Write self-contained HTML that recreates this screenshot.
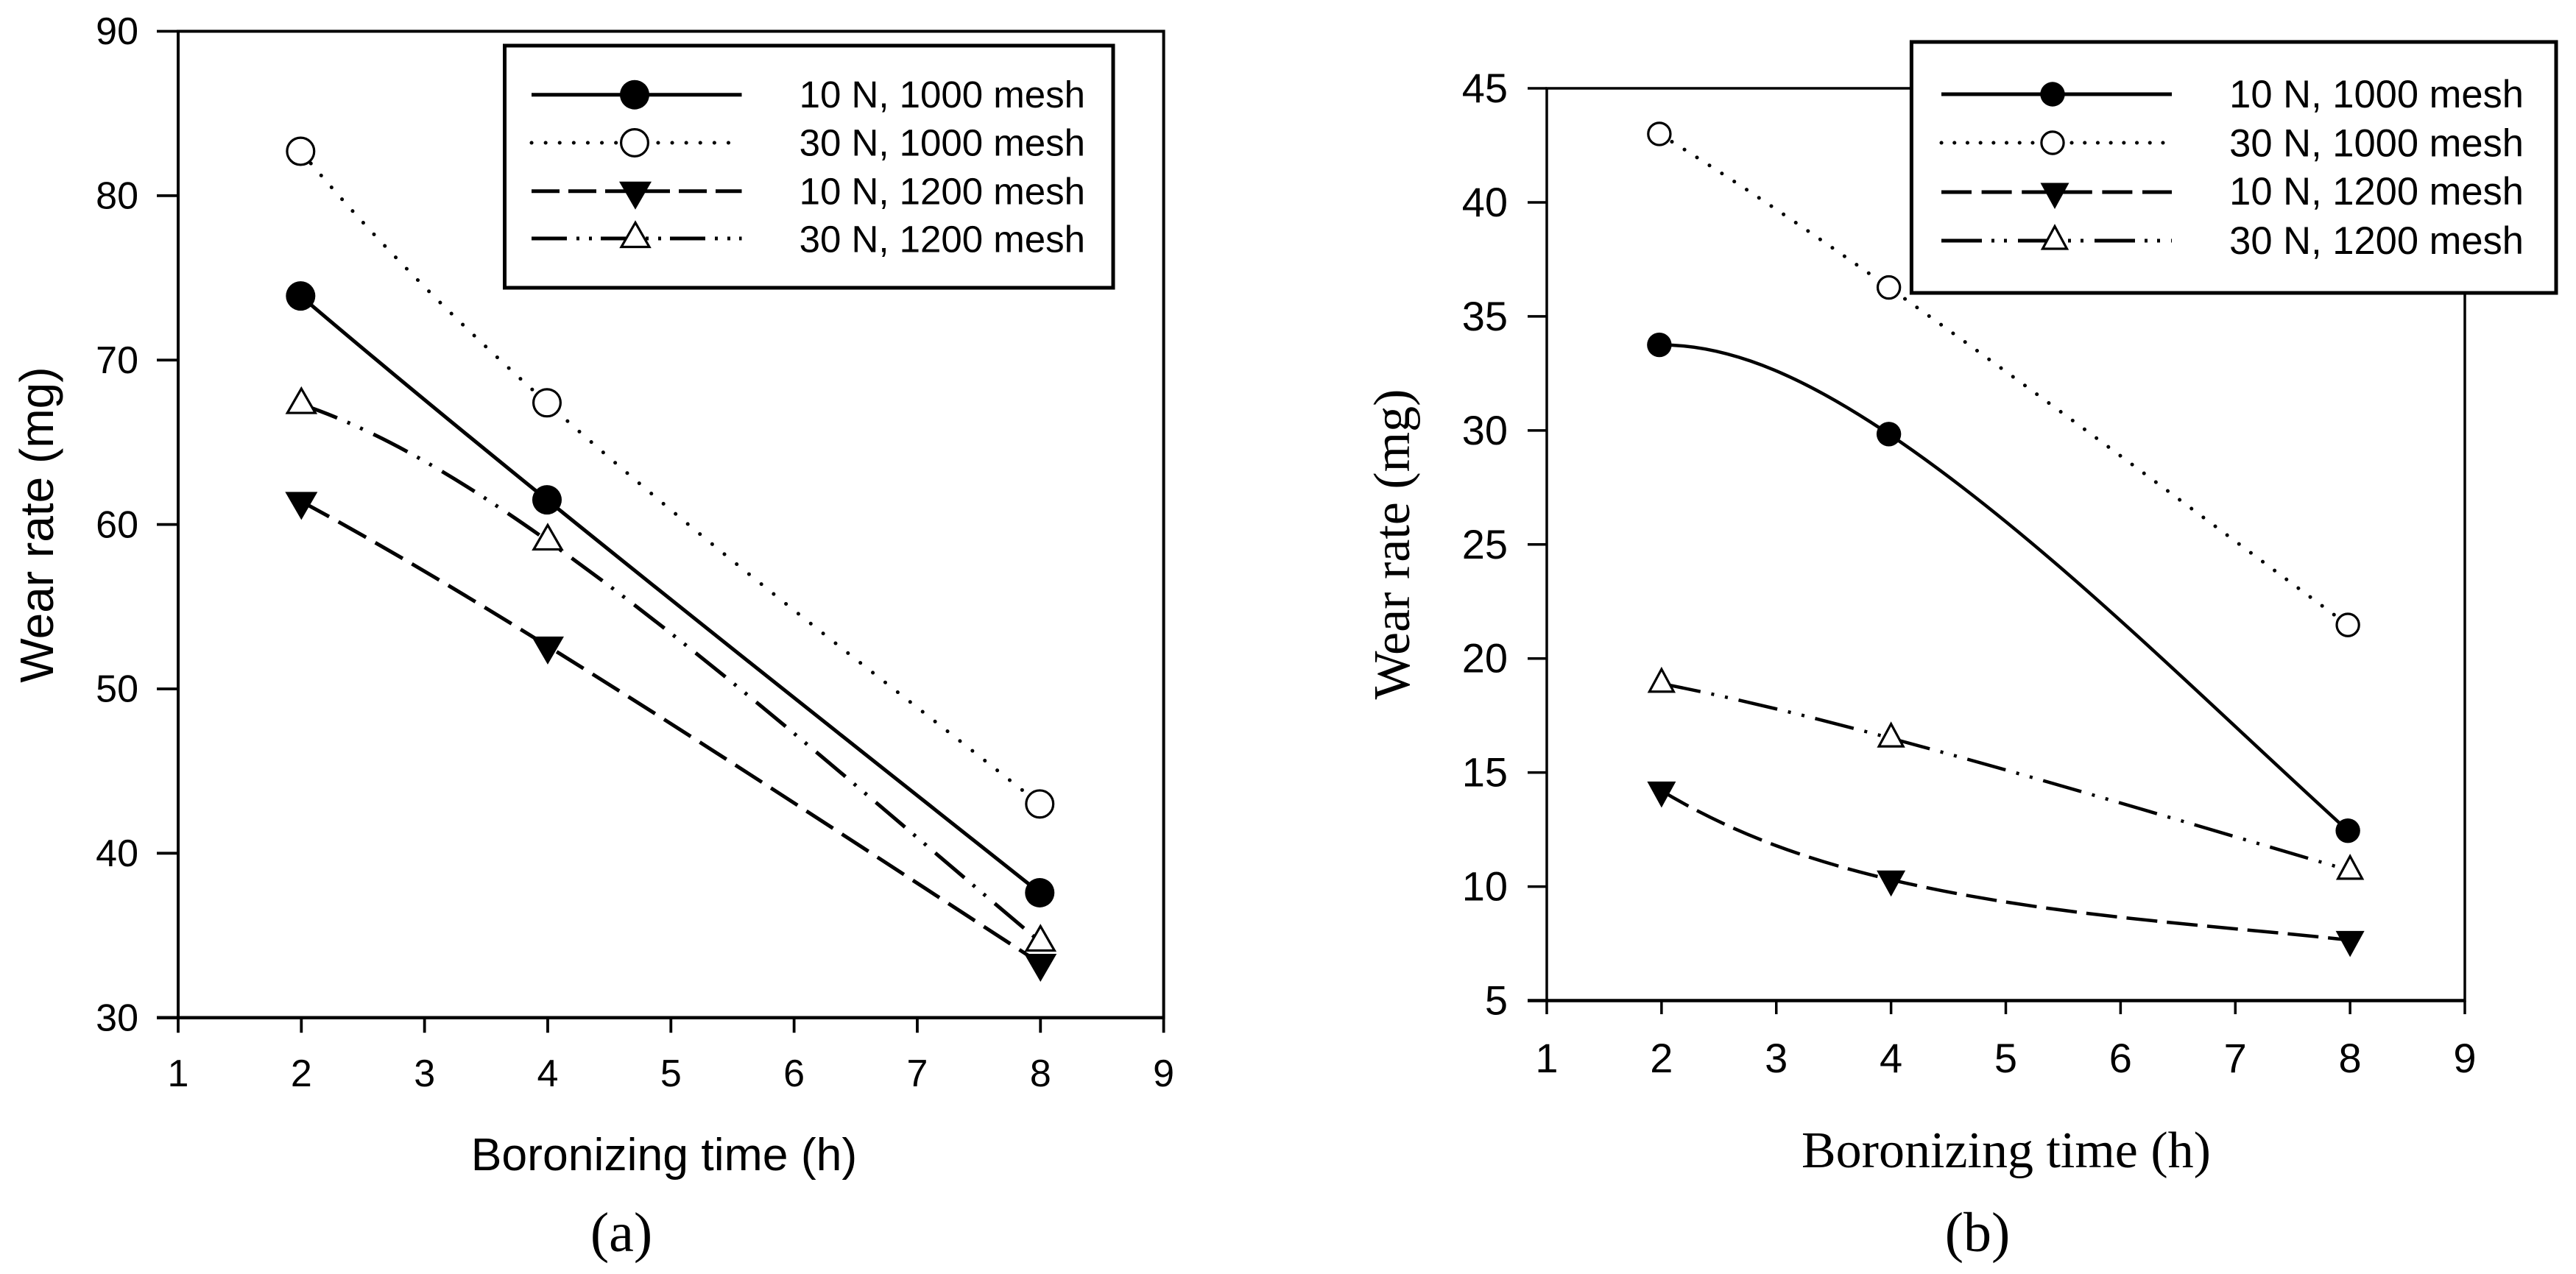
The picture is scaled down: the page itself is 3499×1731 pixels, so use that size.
<!DOCTYPE html>
<html lang="en">
<head>
<meta charset="utf-8">
<title>Wear rate vs boronizing time</title>
<style>
html,body{margin:0;padding:0;background:#fff;}
svg{display:block;}
</style>
</head>
<body>
<svg id="figure" xmlns="http://www.w3.org/2000/svg" width="3499" height="1731" viewBox="0 0 3499 1731">
<rect x="0" y="0" width="3499" height="1731" fill="#fff"/>
</svg>
<script>
// ---- data ----
const times = [2, 4, 8];
const xTickValues = [1, 2, 3, 4, 5, 6, 7, 8, 9];
const yTickValuesA = [30, 40, 50, 60, 70, 80, 90];
const yTickValuesB = [5, 10, 15, 20, 25, 30, 35, 40, 45];
const seriesLabels = ['10 N, 1000 mesh', '30 N, 1000 mesh', '10 N, 1200 mesh', '30 N, 1200 mesh'];
const seriesKeys = ['10n-1000', '30n-1000', '10n-1200', '30n-1200'];

const a10N1000 = [73.9, 61.5, 37.6];
const a30N1000 = [82.7, 67.4, 43.0];
const a10N1200 = [61.4, 52.6, 33.3];
const a30N1200 = [67.3, 59.0, 34.6];

const b10N1000 = [33.75, 29.84, 12.45];
const b30N1000 = [43.0, 36.27, 21.47];
const b10N1200 = [14.2, 10.3, 7.65];
const b30N1200 = [18.9, 16.5, 10.7];

const SVGNS = 'http://www.w3.org/2000/svg';
const svg = document.getElementById('figure');

function make(tag, attrs, parent, text) {
  const el = document.createElementNS(SVGNS, tag);
  for (const k in attrs) el.setAttribute(k, attrs[k]);
  if (text !== undefined) el.textContent = text;
  parent.appendChild(el);
  return el;
}

function linearScale(d0, d1, r0, r1) {
  return v => r0 + (v - d0) * (r1 - r0) / (d1 - d0);
}

// spline through the data; end curvatures tied to the middle knot
function splinePath(xs, ys, sx, sy) {
  const h0 = xs[1] - xs[0], h1 = xs[2] - xs[1];
  const s0 = (ys[1] - ys[0]) / h0, s1 = (ys[2] - ys[1]) / h1;
  const startK = 3, endK = -0.3;
  const M1 = 6 * (s1 - s0) / (h0 * startK + 2 * (h0 + h1) + h1 * endK);
  const M = [startK * M1, M1, endK * M1];
  let d = 'M' + sx(xs[0]).toFixed(2) + ' ' + sy(ys[0]).toFixed(2);
  for (let i = 0; i < 2; i++) {
    const h = xs[i + 1] - xs[i];
    const s = (ys[i + 1] - ys[i]) / h;
    const mL = s - h * (2 * M[i] + M[i + 1]) / 6;
    const mR = s + h * (M[i] + 2 * M[i + 1]) / 6;
    d += ' C' + sx(xs[i] + h / 3).toFixed(2) + ' ' + sy(ys[i] + mL * h / 3).toFixed(2) +
         ' ' + sx(xs[i + 1] - h / 3).toFixed(2) + ' ' + sy(ys[i + 1] - mR * h / 3).toFixed(2) +
         ' ' + sx(xs[i + 1]).toFixed(2) + ' ' + sy(ys[i + 1]).toFixed(2);
  }
  return d;
}

function drawMarker(group, kind, cx, cy, st) {
  let el;
  if (kind === 0 || kind === 1) {
    el = make('circle', {cx: cx + st.dx, cy: cy,
      r: kind === 0 ? st.r : st.r - st.mw / 2,
      fill: kind === 0 ? '#000' : '#fff',
      stroke: kind === 0 ? 'none' : '#000',
      'stroke-width': st.mw}, group);
  } else if (kind === 2) {
    const w = st.tw / 2;
    el = make('polygon', {points:
      (cx - w) + ',' + (cy - st.tUp) + ' ' + (cx + w) + ',' + (cy - st.tUp) + ' ' + cx + ',' + (cy + st.tDown),
      fill: '#000'}, group);
  } else {
    const w = st.tw / 2 - 3;
    el = make('polygon', {points:
      cx + ',' + (cy - st.tDown + 3.5) + ' ' + (cx - w) + ',' + (cy + st.tUp - 1.5) + ' ' + (cx + w) + ',' + (cy + st.tUp - 1.5),
      fill: '#fff', stroke: '#000', 'stroke-width': st.mw, 'stroke-linejoin': 'miter'}, group);
  }
  return el;
}

function drawPanel(p) {
  const sx = linearScale(1, 9, p.left, p.right);
  const sy = linearScale(p.yMin, p.yMax, p.bottom, p.top);

  const g = make('g', {}, svg);
  
  

  const frame = make('rect', {x: p.left, y: p.top, width: p.right - p.left, height: p.bottom - p.top,
    fill: 'none', stroke: '#000', 'stroke-width': p.frameW}, g);
  
  

  const xAxisLine = make('line', {x1: p.left - p.yTick, x2: p.right, y1: p.bottom, y2: p.bottom,
    stroke: '#000', 'stroke-width': p.bottomW}, g);
  
  

  xTickValues.forEach(v => {
    const t = make('line', {x1: sx(v), x2: sx(v), y1: p.bottom, y2: p.bottom + p.xTick,
      stroke: '#000', 'stroke-width': p.tickW}, g);
    
    
    const l = make('text', {x: sx(v), y: p.xLabelY, 'text-anchor': 'middle', 'font-size': p.xFont,
      'font-family': '"Liberation Sans", sans-serif', fill: '#000'}, g, String(v));
    
    
  });

  p.yTicks.forEach(v => {
    const t = make('line', {x1: p.left - p.yTick, x2: p.left, y1: sy(v), y2: sy(v),
      stroke: '#000', 'stroke-width': p.tickW}, g);
    
    
    const l = make('text', {x: p.yLabelX, y: sy(v) + p.yFont * 0.34, 'text-anchor': 'end', 'font-size': p.yFont,
      'font-family': '"Liberation Sans", sans-serif', fill: '#000'}, g, String(v));
    
    
  });

  // series lines then markers
  p.series.forEach((vals, i) => {
    const shift = i < 2 ? p.marker.dx : 0;
    const d = splinePath(times, vals, v => sx(v) + shift, sy);
    const line = make('path', {d: d, fill: 'none', stroke: '#000', 'stroke-width': i === 1 ? p.dotW : p.lineW,
      'stroke-dasharray': p.dash[i], 'stroke-linecap': i === 1 ? 'round' : 'butt'}, g);
    
    
  });
  p.series.forEach((vals, i) => {
    vals.forEach((v, j) => {
      const m = drawMarker(g, i, sx(times[j]), sy(v), p.marker);
      
      
    });
  });

  // legend
  const lg = make('g', {}, g);
  
  
  const box = make('rect', {x: p.lg.left, y: p.lg.top, width: p.lg.right - p.lg.left, height: p.lg.bottom - p.lg.top,
    fill: '#fff', stroke: '#000', 'stroke-width': 5}, lg);
  
  

  seriesLabels.forEach((label, i) => {
    const ly = p.lg.rows[i];
    const sample = make('line', {x1: p.lg.x1, x2: p.lg.x2, y1: ly, y2: ly, stroke: '#000',
      'stroke-width': i === 1 ? p.dotW : 5, 'stroke-dasharray': p.lg.dash[i],
      'stroke-linecap': i === 1 ? 'round' : 'butt'}, lg);
    
    
    const mk = drawMarker(lg, i, p.lg.mx, ly, p.marker);
    
    
    const txt = make('text', {x: p.lg.textX, y: p.lg.base[i], 'text-anchor': 'end', 'font-size': p.lg.font,
      'font-family': '"Liberation Sans", sans-serif', fill: '#000'}, lg, label);
    
    
  });

  // titles
  const xt = make('text', {x: p.xTitle.x, y: p.xTitle.y, 'text-anchor': 'middle', 'font-size': p.xTitle.size,
    'font-family': p.titleFont, fill: '#000'}, g, 'Boronizing time (h)');
  
  

  const yt = make('text', {transform: 'translate(' + p.yTitle.x + ' ' + p.yTitle.y + ') rotate(-90)',
    'text-anchor': 'middle', 'font-size': p.yTitle.size, 'font-family': p.titleFont, fill: '#000'}, g, 'Wear rate (mg)');
  
  

  const cap = make('text', {x: p.caption.x, y: p.caption.y, 'text-anchor': 'middle', 'font-size': 76,
    'font-family': '"Liberation Serif", serif', fill: '#000'}, g, p.caption.text);
  
  
}

drawPanel({
  id: 'panel-a', left: 242, right: 1580.6, top: 42.5, bottom: 1382.7,
  yMin: 30, yMax: 90, yTicks: yTickValuesA,
  series: [a10N1000, a30N1000, a10N1200, a30N1200],
  frameW: 4, bottomW: 4.5, tickW: 3.8, lineW: 5, dotW: 5, xTick: 20.5, yTick: 29,
  xFont: 52, xLabelY: 1476, yFont: 52, yLabelX: 188,
  dash: ['none', '0.1 21.4', '43 14.5', '52 15 4 15 4 16'],
  marker: {r: 20, mw: 3.2, tw: 44, tUp: 13, tDown: 25, dx: -1},
  lg: {left: 685.5, right: 1512, top: 62, bottom: 391, rows: [128.7, 194, 259.7, 324],
       base: [146, 211.7, 277.3, 342.7], x1: 722, x2: 1007.5, mx: 863, textX: 1474, font: 51,
       dash: ['none', '0.1 19', '38 12', '48 13 4 13 4 12']},
  titleFont: '"Liberation Sans", sans-serif',
  xTitle: {x: 902, y: 1590, size: 62.5},
  yTitle: {x: 72, y: 713, size: 64},
  caption: {x: 844, y: 1700, text: '(a)'}
});

drawPanel({
  id: 'panel-b', left: 2101, right: 3348, top: 120, bottom: 1359.5,
  yMin: 5, yMax: 45, yTicks: yTickValuesB,
  series: [b10N1000, b30N1000, b10N1200, b30N1200],
  frameW: 3.5, bottomW: 4.5, tickW: 3.5, lineW: 4.5, dotW: 5, xTick: 18.5, yTick: 26,
  xFont: 56, xLabelY: 1457, yFont: 56, yLabelX: 2048,
  dash: ['none', '0.1 20', '42 13', '54 15 4 15 4 15'],
  marker: {r: 16.7, mw: 3.2, tw: 39, tUp: 12.5, tDown: 23, dx: -3},
  lg: {left: 2596.4, right: 3472, top: 57, bottom: 398, rows: [128, 194, 261, 327],
       base: [146, 212.3, 278, 345], x1: 2637, x2: 2950, mx: 2791, textX: 3428, font: 52.5,
       dash: ['none', '0.1 17.6', '41 13.6', '55 13 4 13 4 15']},
  titleFont: '"Liberation Serif", serif',
  xTitle: {x: 2725, y: 1586, size: 70},
  yTitle: {x: 1914, y: 739.5, size: 70},
  caption: {x: 2686, y: 1700, text: '(b)'}
});
</script>
</body>
</html>
